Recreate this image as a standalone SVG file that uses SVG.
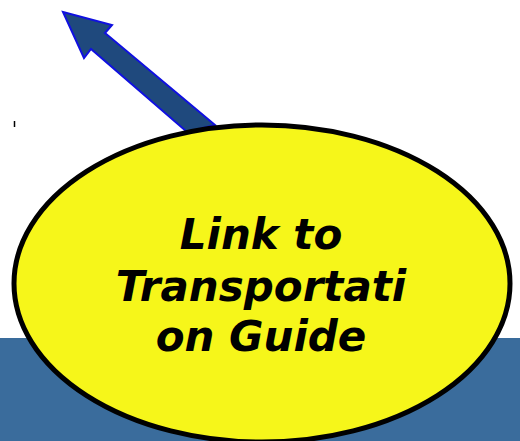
<svg xmlns="http://www.w3.org/2000/svg" width="520" height="441" viewBox="0 0 520 441">
<style>
.lbl{font-family:"DejaVu Sans",sans-serif;font-weight:bold;font-style:oblique;font-size:42px;fill:#000;text-anchor:middle}
</style>
<rect x="0" y="0" width="520" height="441" fill="#fff"/>
<rect x="0" y="338" width="520" height="103" fill="#3a6c9c"/>
<line x1="14.5" y1="121" x2="14.5" y2="127" stroke="#000" stroke-width="1.5"/>
<g id="connectors">
<polygon points="63,12 112,25 105,33 215,125 187,132 91,49 84,58" fill="#1f497d" stroke="#1010e0" stroke-width="2" stroke-linejoin="miter"/>
</g>
<g id="node-link">
<ellipse cx="262" cy="283.5" rx="248" ry="158.5" fill="#f6f61a" stroke="#000" stroke-width="5"/>
<text class="lbl" x="261" y="249">Link to</text>
<text class="lbl" x="261" y="301">Transportati</text>
<text class="lbl" x="261" y="351">on Guide</text>
</g>
</svg>
